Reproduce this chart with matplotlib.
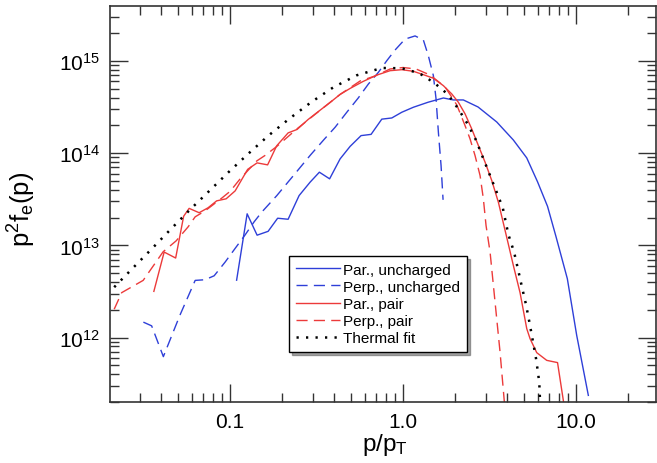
import numpy as np
import matplotlib
matplotlib.use("Agg")
import matplotlib.pyplot as plt
from matplotlib.ticker import FixedLocator, NullFormatter, LogLocator, FixedFormatter

plt.rcParams['font.family'] = ['Liberation Sans', 'DejaVu Sans']
plt.rcParams['mathtext.fontset'] = 'custom'
plt.rcParams['mathtext.rm'] = 'Liberation Sans'
plt.rcParams['mathtext.default'] = 'regular'

# ---- data ----
par_unch_x = [0.1090, 0.1254, 0.1432, 0.1658, 0.1882, 0.2164, 0.2505, 0.2900, 0.3281, 0.3760,
              0.4323, 0.4939, 0.5716, 0.6531, 0.7530, 0.8603, 0.9828, 1.147, 1.395, 1.710,
              1.953, 2.231, 2.714, 3.480, 4.341, 5.188, 5.991, 6.843, 7.663, 8.907, 10.09, 11.78]
par_unch_y = [4.19e12, 2.20e13, 1.29e13, 1.42e13, 1.97e13, 1.92e13, 3.47e13, 4.85e13, 6.22e13, 5.27e13,
              8.67e13, 1.185e14, 1.551e14, 1.60e14, 2.34e14, 2.41e14, 2.78e14, 3.15e14, 3.57e14, 3.97e14,
              3.78e14, 3.78e14, 3.17e14, 2.18e14, 1.39e14, 8.89e13, 4.89e13, 2.65e13, 1.24e13, 4.35e12, 1.056e12, 2.36e11]

perp_unch_x = [0.03150, 0.03517, 0.04110, 0.05119, 0.06277, 0.07168, 0.08083, 0.09356, 0.1065, 0.1221,
               0.1376, 0.1525, 0.1862, 0.2323, 0.2919, 0.3494, 0.4045, 0.4727, 0.5516, 0.6302,
               0.7200, 0.8051, 0.8990, 1.027, 1.173, 1.310, 1.400, 1.497, 1.551, 1.600, 1.658, 1.703]
perp_unch_y = [1.47e12, 1.34e12, 6.21e11, 1.74e12, 4.17e12, 4.24e12, 4.68e12, 6.59e12, 9.19e12, 1.30e13,
               1.80e13, 2.30e13, 3.47e13, 5.72e13, 9.59e13, 1.41e14, 1.91e14, 2.78e14, 3.99e14, 5.63e14,
               7.54e14, 1.008e15, 1.316e15, 1.73e15, 1.87e15, 1.69e15, 1.14e15, 6.93e14, 3.88e14, 1.69e14, 7.34e13, 3.12e13]

par_pair_x = [0.03622, 0.04154, 0.04842, 0.05385, 0.05794, 0.06619, 0.07460, 0.08356, 0.09482, 0.1069,
              0.1263, 0.1432, 0.1647, 0.1857, 0.2164, 0.2439, 0.2824, 0.3268, 0.3785, 0.4323,
              0.4939, 0.5872, 0.7075, 0.8412, 0.9828, 1.147, 1.310, 1.497, 1.710, 1.912,
              2.087, 2.282, 2.495, 2.725, 2.979, 3.257, 3.556, 3.784, 3.992, 4.341,
              4.746, 5.188, 5.422, 5.926, 6.770, 7.818, 8.468, 8.72]
par_pair_y = [3.17e12, 8.46e12, 7.29e12, 2.07e13, 2.52e13, 2.26e13, 2.56e13, 3.04e13, 3.20e13, 3.90e13,
              6.68e13, 7.85e13, 7.47e13, 1.20e14, 1.66e14, 1.81e14, 2.32e14, 2.87e14, 3.55e14, 4.34e14,
              5.04e14, 6.00e14, 7.05e14, 7.85e14, 8.05e14, 7.73e14, 7.11e14, 6.50e14, 5.40e14, 4.39e14,
              3.57e14, 2.67e14, 1.83e14, 1.21e14, 7.99e13, 5.05e13, 2.94e13, 1.80e13, 1.18e13, 6.06e12,
              3.07e12, 1.25e12, 9.73e11, 6.86e11, 5.66e11, 5.35e11, 2.01e11, 1.32e11]

perp_pair_x = [0.02136, 0.02360, 0.03141, 0.04099, 0.04874, 0.05718, 0.06277, 0.07168, 0.08990, 0.1000,
               0.1143, 0.1427, 0.1594, 0.1862, 0.2429, 0.3170, 0.4323, 0.5644, 0.6890, 0.8412,
               1.000, 1.189, 1.432, 1.749, 2.044, 2.164, 2.282, 2.439, 2.607, 2.787,
               2.912, 3.018, 3.184, 3.402, 3.636, 3.850, 3.887]
perp_pair_y = [2.03e12, 3.07e12, 4.17e12, 8.53e12, 1.12e13, 1.59e13, 2.04e13, 2.37e13, 3.28e13, 3.86e13,
               5.27e13, 8.25e13, 9.47e13, 1.185e14, 1.83e14, 2.73e14, 4.34e14, 6.07e14, 6.88e14, 8.19e14,
               8.50e14, 8.19e14, 7.05e14, 5.23e14, 3.34e14, 2.56e14, 1.99e14, 1.43e14, 9.42e13, 5.72e13,
               3.20e13, 1.64e13, 8.46e12, 2.43e12, 6.98e11, 2.01e11, 1.32e11]

thermal_x = [0.02136, 0.02749, 0.03540, 0.04543, 0.05849, 0.07559, 0.09829, 0.1276, 0.1665, 0.2214,
             0.2939, 0.3956, 0.5400, 0.7530, 0.983, 1.242, 1.517, 1.813, 2.087, 2.366,
             2.642, 2.888, 3.154, 3.448, 3.771, 4.062, 4.382, 4.620, 4.873, 5.140,
             5.372, 5.619, 5.872, 6.055, 6.136, 6.193, 6.25]
thermal_y = [3.52e12, 5.72e12, 9.26e12, 1.502e13, 2.43e13, 3.88e13, 6.27e13, 9.90e13, 1.551e14, 2.39e14,
             3.57e14, 5.19e14, 7.00e14, 8.40e14, 8.34e14, 7.36e14, 5.78e14, 4.36e14, 3.02e14, 2.06e14,
             1.383e14, 9.05e13, 5.97e13, 3.93e13, 2.555e13, 1.312e13, 8.46e12, 5.48e12, 3.50e12, 2.27e12,
             1.476e12, 9.33e11, 5.91e11, 3.90e11, 3.11e11, 2.02e11, 1.6e11]

labels = ["Par., uncharged", "Perp., uncharged", "Par., pair", "Perp., pair", "Thermal fit"]
x_ticks = [0.1, 1.0, 10.0]
x_ticklabels = ["0.1", "1.0", "10.0"]

BLUE = '#2e3fd8'
RED = '#ec3a3a'

fig = plt.figure(figsize=(6.57, 4.64), dpi=100)
ax = fig.add_axes([110/657, 61/464, 546/657, 396/464])
ax.set_xscale('log')
ax.set_yscale('log')

lw = 1.0
ax.plot(par_unch_x, par_unch_y, color=BLUE, lw=lw, label=labels[0])
ax.plot(perp_unch_x, perp_unch_y, color=BLUE, lw=lw, dashes=(8, 4.5), label=labels[1])
ax.plot(par_pair_x, par_pair_y, color=RED, lw=lw, label=labels[2])
ax.plot(perp_pair_x, perp_pair_y, color=RED, lw=lw, dashes=(8, 4.5), label=labels[3])
ax.plot(thermal_x, thermal_y, color='black', lw=1.8, dashes=(0.9, 2.9), label=labels[4])

ax.set_xlim(0.0202, 29.0)
ax.set_ylim(2.0e11, 3.95e15)

ax.xaxis.set_major_locator(FixedLocator(x_ticks))
ax.xaxis.set_major_formatter(FixedFormatter(x_ticklabels))
ax.xaxis.set_minor_locator(LogLocator(base=10, subs=np.arange(2, 10), numticks=20))
ax.xaxis.set_minor_formatter(NullFormatter())
ax.yaxis.set_major_locator(LogLocator(base=10, numticks=20))
ax.yaxis.set_minor_locator(LogLocator(base=10, subs=np.arange(2, 10), numticks=20))
ax.yaxis.set_minor_formatter(NullFormatter())

ax.tick_params(which='both', direction='in', top=True, right=True, color='#333333', width=1.0)
ax.tick_params(which='major', length=13, labelsize=15, pad=7)
ax.tick_params(which='minor', length=6.5)
for s in ax.spines.values():
    s.set_linewidth(1.2)
    s.set_color('#333333')

ax.set_xlabel('p/p$_T$', fontsize=17.5)
ax.set_ylabel('p$^2$f$_e$(p)', fontsize=18.5)
ax.xaxis.set_label_coords(0.503, -0.072)
ax.yaxis.set_label_coords(-0.132, 0.49)

leg = ax.legend(loc='upper left', bbox_to_anchor=(0.328, 0.369), borderaxespad=0,
                fontsize=11, handlelength=2.9, handletextpad=0.2, borderpad=0.45,
                labelspacing=0.2, fancybox=False, framealpha=1, edgecolor='black', shadow=True)
leg.get_frame().set_linewidth(1.0)

fig.savefig('out.png', dpi=100)
